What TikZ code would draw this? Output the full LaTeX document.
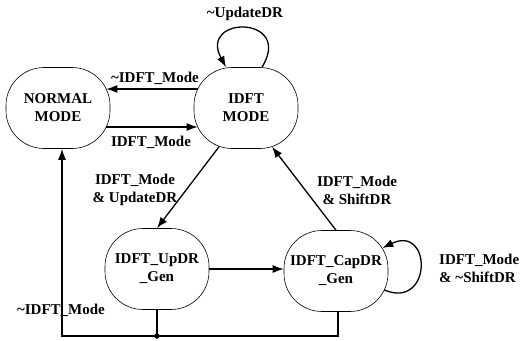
\documentclass[tikz,border=0pt]{standalone}
\usepackage{fontspec}
\setmainfont{Liberation Serif}
\usetikzlibrary{arrows.meta}

\begin{document}
\begin{tikzpicture}[x=1pt,y=-1pt,>={Latex[length=11pt,width=8pt]},
  state/.style={draw,line width=0.6pt,rounded corners=38pt,minimum width=104pt,minimum height=81pt,align=center,inner sep=0pt,font=\bfseries\fontsize{15}{18}\selectfont},
  cond/.style={align=center,font=\bfseries\fontsize{15}{18}\selectfont},
  trans/.style={line width=1.3pt}]
\useasboundingbox (0,0) rectangle (522,340);
%%%STATES
\node[state] (normal) at (58,108) {NORMAL\\MODE};
\node[state] (idft) at (246,108) {IDFT\\MODE};
\node[state] (updr) at (157,269) {IDFT\_UpDR\\\_Gen};
\node[state] (capdr) at (336,271) {IDFT\_CapDR\\\_Gen};
%%%TRANSITIONS
\draw[->,trans] ([shift={(4,-19)}]idft.west) -- ([shift={(-4,-19)}]normal.east);
\draw[->,trans] ([shift={(-4,19)}]normal.east) -- ([shift={(4,19)}]idft.west);
\draw[->,trans] ([xshift=16pt]idft.north) .. controls +(32,-52) and +(-28,-52) .. ([xshift=-20pt]idft.north);
\draw[->,trans] ([shift={(-27,-2)}]idft.south) -- (updr.north);
\draw[->,trans] (capdr.north) -- ([shift={(26,-2)}]idft.south);
\draw[->,trans] (updr.east) -- (updr.east -| capdr.west);
\draw[->,trans] ([shift={(-4,19)}]capdr.east) .. controls +(48,20) and +(50,-24) .. ([shift={(-6,-23)}]capdr.east);
%%%BACK TO NORMAL
\coordinate (junc) at (157,336);
\draw[trans] (updr.south) -- (junc);
\draw[->,trans] ([xshift=2pt]capdr.south) |- ([xshift=4pt]normal.south |- junc) -- ([xshift=4pt]normal.south);
\filldraw[black] (junc) circle (2.5);
%%%CONDITIONS
\node[cond] (c1) at (245,14) {\textasciitilde UpdateDR};
\node[cond] (c2) at (155,78) {\textasciitilde IDFT\_Mode};
\node[cond] (c3) at (151,142) {IDFT\_Mode};
\node[cond] (c4) at (135,190) {IDFT\_Mode\\\& UpdateDR};
\node[cond] (c5) at (357,190) {IDFT\_Mode\\\& ShiftDR};
\node[cond,align=left,anchor=west,inner sep=0pt] (c6) at (439,268) {IDFT\_Mode\\\& \textasciitilde ShiftDR};
\node[cond] (c7) at (61,310) {\textasciitilde IDFT\_Mode};
\end{tikzpicture}
\end{document}
